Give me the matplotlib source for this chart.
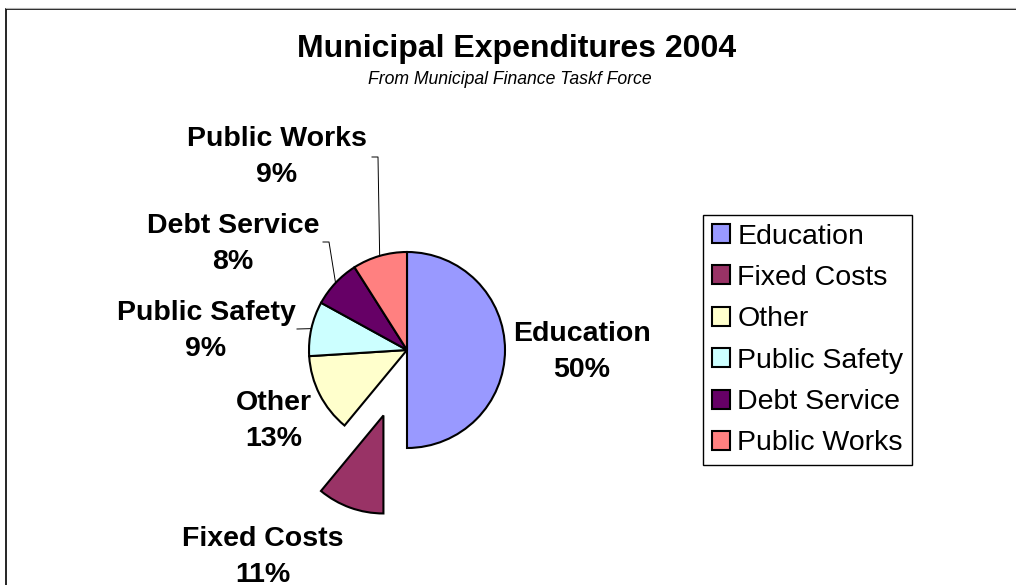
import numpy as np
import matplotlib.pyplot as plt
from matplotlib.patches import Rectangle

W, H = 1016, 585

categories = ["Education", "Fixed Costs", "Other", "Public Safety", "Debt Service", "Public Works"]
shares = [50, 11, 13, 9, 8, 9]
colours = ["#9999FF", "#993366", "#FFFFCC", "#CCFFFF", "#660066", "#FF8080"]
explode = [0, 0.71, 0, 0, 0, 0]  # fraction of the radius

plt.rcParams['font.family'] = ['Liberation Sans', 'DejaVu Sans']

fig = plt.figure(figsize=(W / 100, H / 100), dpi=100)
ax = fig.add_axes([0, 0, 1, 1])

# axes units are pixels with y pointing up
centre = (407, H - 350)
radius = 98

wedges, _ = ax.pie(shares, colors=colours, explode=[e * radius for e in explode],
                   startangle=90, counterclock=False, center=centre, radius=radius,
                   wedgeprops=dict(edgecolor="black", linewidth=1.5))
ax.set_xlim(0, W)
ax.set_ylim(0, H)
ax.axis("off")

# chart area border
ax.add_patch(Rectangle((6, -20), W + 20, H - 9 + 20, fill=False, edgecolor="black", linewidth=1.2, clip_on=False))
ax.plot([6, W], [H - 7.5, H - 7.5], color="#b4b4b4", linewidth=0.8)

# data labels (block centres) and leader line elbows, in pixel rows from the top
labelPos = {
    "Education": (582, 352),
    "Fixed Costs": (263, 557),
    "Other": (274, 421),
    "Public Safety": (206, 331),
    "Debt Service": (233, 244),
    "Public Works": (277, 157),
}
leaders = {
    "Public Works": [(372, 157), (378, 157)],
    "Debt Service": [(323, 242), (329, 242)],
    "Public Safety": [(297, 329)],
}

angle = 90.0
for cat, share in zip(categories, shares):
    sweep = share / sum(shares) * 360
    mid = np.radians(angle - sweep / 2)
    angle -= sweep

    x, y = labelPos[cat]
    ax.text(x, H - y, cat + "\n" + str(share) + "%", ha="center", va="center",
            fontsize=20.5, weight="bold", linespacing=1.5, multialignment="center")

    if cat in leaders:
        pts = [(px, H - py) for px, py in leaders[cat]]
        pts.append((centre[0] + radius * np.cos(mid), centre[1] + radius * np.sin(mid)))
        ax.plot([p[0] for p in pts], [p[1] for p in pts], color="black", linewidth=0.7)

fig.text(517 / W, 1 - 57 / H, "Municipal Expenditures 2004", ha="center", va="baseline",
         fontsize=23, weight="bold")
fig.text(510 / W, 1 - 84.5 / H, "From Municipal Finance Taskf Force", ha="center", va="baseline",
         fontsize=12.7, style="italic")

leg = ax.legend(wedges, categories, loc="upper left", bbox_to_anchor=(703 / W, 1 - 215 / H),
                fontsize=20.5, frameon=True, fancybox=False, edgecolor="black", framealpha=1,
                handlelength=0.65, handleheight=0.65, handletextpad=0.25, labelspacing=0.54,
                borderpad=0.3, borderaxespad=0)
leg.get_frame().set_linewidth(1.0)

fig.savefig("out.png", dpi=100)
